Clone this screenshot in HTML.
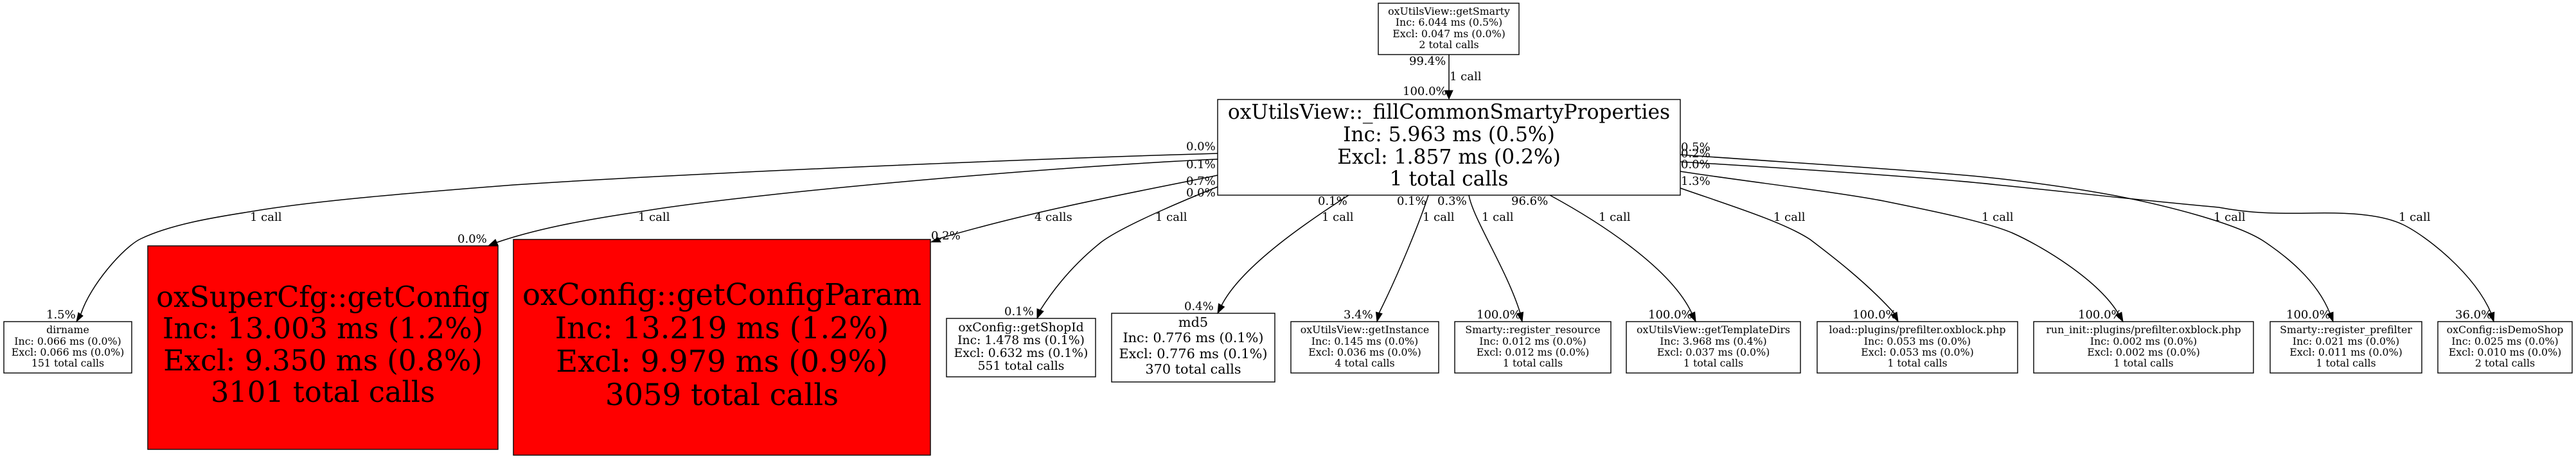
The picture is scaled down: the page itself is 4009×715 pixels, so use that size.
<!DOCTYPE html>
<html><head><meta charset="utf-8"><style>
html,body{margin:0;padding:0;background:#fff}
svg{display:block}
text{font-family:"DejaVu Serif",serif;fill:#000}
.e{fill:none;stroke:#000;stroke-width:1.5}
.b{fill:#fff;stroke:#000;stroke-width:1.4}
.r{fill:#f00;stroke:#000;stroke-width:1.4}
.l{font-size:18px}
.s{font-size:15.8px;text-anchor:middle}
.m{font-size:18.8px;text-anchor:middle}
.d{font-size:20.8px;text-anchor:middle}
.x{font-size:31.3px;text-anchor:middle}
.c{font-size:44.7px;text-anchor:middle}
.p{font-size:46.5px;text-anchor:middle}
</style></head><body>
<svg width="4009" height="715" viewBox="0 0 4009 715" xmlns="http://www.w3.org/2000/svg">
<rect width="4009" height="715" fill="#fff"/>

<path class="e" d="M2255 85V141"/>
<path class="e" d="M1895 239C1650 246 1100 268 800 288C620 302 480 314 388 330C330 339 265 350 219 372C192 385 140 445 126 489"/>
<path class="e" d="M1895 248C1700 256 1200 296 994 330C900 344 830 358 772 378"/>
<path class="e" d="M1895 273C1780 297 1620 325 1460 372"/>
<path class="e" d="M1895 291C1860 305 1750 350 1714 377C1670 412 1640 450 1619 483"/>
<path class="e" d="M2099 304C2040 342 1932 414 1901 476"/>
<path class="e" d="M2223 304C2210 345 2175 430 2146 488"/>
<path class="e" d="M2286 304C2292 340 2345 420 2366 488"/>
<path class="e" d="M2412 304C2482 342 2599 415 2633 488"/>
<path class="e" d="M2615 293C2680 316 2775 345 2817 373C2850 398 2905 440 2948 488"/>
<path class="e" d="M2615 267C2720 283 2850 298 2931 313C3000 327 3090 345 3132 363C3175 382 3265 435 3297 489"/>
<path class="e" d="M2615 241C2780 253 3000 266 3109 278C3170 285 3240 295 3293 305C3370 320 3478 347 3522 375C3555 397 3605 435 3626 488"/>
<path class="e" d="M2615 252C2780 262 3000 276 3109 288C3200 297 3330 312 3453 323C3500 332 3540 333 3597 332C3650 331 3705 333 3740 350C3775 367 3850 425 3877 488"/>

<rect class="b" x="2145" y="5" width="219" height="80"/>
<rect class="b" x="1895" y="155" width="720" height="149"/>
<rect class="b" x="6" y="501" width="199" height="80"/>
<rect class="r" x="230" y="383" width="545" height="317"/>
<rect class="r" x="799" y="373" width="649" height="336"/>
<rect class="b" x="1473" y="496" width="232" height="91"/>
<rect class="b" x="1730" y="488" width="254" height="107"/>
<rect class="b" x="2009" y="501" width="230" height="80"/>
<rect class="b" x="2264" y="501" width="243" height="80"/>
<rect class="b" x="2531" y="501" width="271" height="80"/>
<rect class="b" x="2828" y="501" width="312" height="80"/>
<rect class="b" x="3165" y="501" width="342" height="80"/>
<rect class="b" x="3533" y="501" width="236" height="80"/>
<rect class="b" x="3794" y="501" width="209" height="80"/>

<g fill="#000" stroke="#000" stroke-width="1">
<polygon points="2249,141 2261,141 2255,154"/>
<polygon points="122,487 129,492 119,501"/>
<polygon points="761,382 771,373 775,382"/>
<polygon points="1449,377 1464,377 1460,370"/>
<polygon points="1624,485 1614,481 1614,496"/>
<polygon points="1905.5,478 1896.5,473 1895,488"/>
<polygon points="2151,488.6 2141.5,486.2 2143,501"/>
<polygon points="2370.5,486.2 2360.8,488.6 2369,501"/>
<polygon points="2637.6,486 2628.4,490 2639,501"/>
<polygon points="2952,486.3 2943.3,490.8 2954,501"/>
<polygon points="3301.8,486.4 3293,491 3304,501"/>
<polygon points="3631,486.2 3621.7,489.4 3631,501"/>
<polygon points="3881.8,486.2 3872.2,489 3881,501"/>
</g>

<text class="s" x="2255" y="23">oxUtilsView::getSmarty</text><text class="s" x="2255" y="40">Inc: 6.044 ms (0.5%)</text><text class="s" x="2255" y="58">Excl: 0.047 ms (0.0%)</text><text class="s" x="2255" y="75">2 total calls</text>
<text class="x" x="2255" y="185">oxUtilsView::_fillCommonSmartyProperties</text><text class="x" x="2255" y="220">Inc: 5.963 ms (0.5%)</text><text class="x" x="2255" y="255">Excl: 1.857 ms (0.2%)</text><text class="x" x="2255" y="289">1 total calls</text>

<text class="s" x="105.500" y="519">dirname</text><text class="s" x="105.500" y="537">Inc: 0.066 ms (0.0%)</text><text class="s" x="105.500" y="554">Excl: 0.066 ms (0.0%)</text><text class="s" x="105.500" y="571">151 total calls</text>

<text class="c" x="502.500" y="478">oxSuperCfg::getConfig</text><text class="c" x="502.500" y="527">Inc: 13.003 ms (1.2%)</text><text class="c" x="502.500" y="577">Excl: 9.350 ms (0.8%)</text><text class="c" x="502.500" y="626">3101 total calls</text>

<text class="p" x="1123.500" y="475">oxConfig::getConfigParam</text><text class="p" x="1123.500" y="527">Inc: 13.219 ms (1.2%)</text><text class="p" x="1123.500" y="579">Excl: 9.979 ms (0.9%)</text><text class="p" x="1123.500" y="631">3059 total calls</text>

<text class="m" x="1589" y="516">oxConfig::getShopId</text><text class="m" x="1589" y="536">Inc: 1.478 ms (0.1%)</text><text class="m" x="1589" y="556">Excl: 0.632 ms (0.1%)</text><text class="m" x="1589" y="576">551 total calls</text>

<text class="d" x="1857" y="509">md5</text><text class="d" x="1857" y="533">Inc: 0.776 ms (0.1%)</text><text class="d" x="1857" y="558">Excl: 0.776 ms (0.1%)</text><text class="d" x="1857" y="582">370 total calls</text>

<text class="s" x="2124" y="519">oxUtilsView::getInstance</text><text class="s" x="2124" y="537">Inc: 0.145 ms (0.0%)</text><text class="s" x="2124" y="554">Excl: 0.036 ms (0.0%)</text><text class="s" x="2124" y="571">4 total calls</text>

<text class="s" x="2385.500" y="519">Smarty::register_resource</text><text class="s" x="2385.500" y="537">Inc: 0.012 ms (0.0%)</text><text class="s" x="2385.500" y="554">Excl: 0.012 ms (0.0%)</text><text class="s" x="2385.500" y="571">1 total calls</text>

<text class="s" x="2666.500" y="519">oxUtilsView::getTemplateDirs</text><text class="s" x="2666.500" y="537">Inc: 3.968 ms (0.4%)</text><text class="s" x="2666.500" y="554">Excl: 0.037 ms (0.0%)</text><text class="s" x="2666.500" y="571">1 total calls</text>

<text class="s" x="2984" y="519">load::plugins/prefilter.oxblock.php</text><text class="s" x="2984" y="537">Inc: 0.053 ms (0.0%)</text><text class="s" x="2984" y="554">Excl: 0.053 ms (0.0%)</text><text class="s" x="2984" y="571">1 total calls</text>

<text class="s" x="3336" y="519">run_init::plugins/prefilter.oxblock.php</text><text class="s" x="3336" y="537">Inc: 0.002 ms (0.0%)</text><text class="s" x="3336" y="554">Excl: 0.002 ms (0.0%)</text><text class="s" x="3336" y="571">1 total calls</text>

<text class="s" x="3651" y="519">Smarty::register_prefilter</text><text class="s" x="3651" y="537">Inc: 0.021 ms (0.0%)</text><text class="s" x="3651" y="554">Excl: 0.011 ms (0.0%)</text><text class="s" x="3651" y="571">1 total calls</text>

<text class="s" x="3898.500" y="519">oxConfig::isDemoShop</text><text class="s" x="3898.500" y="537">Inc: 0.025 ms (0.0%)</text><text class="s" x="3898.500" y="554">Excl: 0.010 ms (0.0%)</text><text class="s" x="3898.500" y="571">2 total calls</text>

<text class="l" x="2256" y="125">1 call</text>
<text class="l" x="389" y="344">1 call</text>
<text class="l" x="993" y="344">1 call</text>
<text class="l" x="1610" y="344">4 calls</text>
<text class="l" x="1798" y="344">1 call</text>
<text class="l" x="2057" y="344">1 call</text>
<text class="l" x="2214" y="344">1 call</text>
<text class="l" x="2306" y="344">1 call</text>
<text class="l" x="2488" y="344">1 call</text>
<text class="l" x="2760" y="344">1 call</text>
<text class="l" x="3084" y="344">1 call</text>
<text class="l" x="3445" y="344">1 call</text>
<text class="l" x="3733" y="344">1 call</text>

<text class="l" x="2193" y="101">99.4%</text>
<text class="l" x="2183" y="148">100.0%</text>
<text class="l" x="1846" y="234">0.0%</text>
<text class="l" x="1846" y="262">0.1%</text>
<text class="l" x="1846" y="288">0.7%</text>
<text class="l" x="1846" y="306">0.0%</text>
<text class="l" x="2616" y="235">0.5%</text>
<text class="l" x="2616" y="245">0.2%</text>
<text class="l" x="2616" y="262">0.0%</text>
<text class="l" x="2616" y="288">1.3%</text>
<text class="l" x="2051" y="319">0.1%</text>
<text class="l" x="2174" y="319">0.1%</text>
<text class="l" x="2237" y="319">0.3%</text>
<text class="l" x="2352" y="319">96.6%</text>
<text class="l" x="72" y="496">1.5%</text>
<text class="l" x="712" y="378">0.0%</text>
<text class="l" x="1449" y="373">0.2%</text>
<text class="l" x="1563" y="491">0.1%</text>
<text class="l" x="1843" y="483">0.4%</text>
<text class="l" x="2091" y="496">3.4%</text>
<text class="l" x="2298" y="496">100.0%</text>
<text class="l" x="2565" y="496">100.0%</text>
<text class="l" x="2883" y="496">100.0%</text>
<text class="l" x="3234" y="496">100.0%</text>
<text class="l" x="3558" y="496">100.0%</text>
<text class="l" x="3821" y="496">36.0%</text>
</svg>
</body></html>
